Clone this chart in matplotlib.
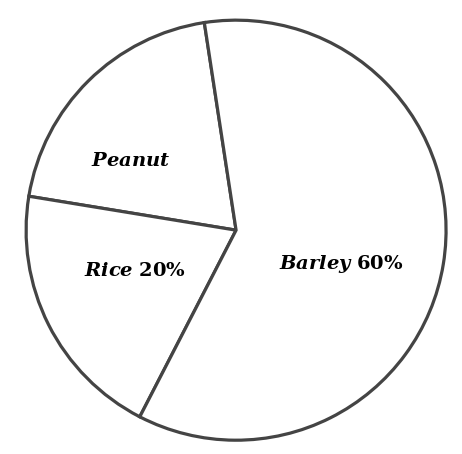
import matplotlib
matplotlib.use("Agg")
import matplotlib.pyplot as plt

crops = ["Peanut", "Rice", "Barley"]
shares = [20, 20, 60]
labels = [r"$\mathit{Peanut}$", r"$\mathit{Rice}$ $\mathbf{20\%}$", r"$\mathit{Barley}$ $\mathbf{60\%}$"]
label_pos = [(-0.50, 0.33), (-0.48, -0.19), (0.50, -0.16)]

plt.rcParams["mathtext.fontset"] = "custom"
plt.rcParams["mathtext.it"] = "DejaVu Serif:italic:bold"
plt.rcParams["mathtext.bf"] = "DejaVu Serif:bold"
plt.rcParams["mathtext.rm"] = "DejaVu Serif:bold"

fig = plt.figure(figsize=(4.62, 4.54), dpi=100)
ax = fig.add_axes([0.511 - 0.4545, 0.493 - 0.4626, 0.909, 0.9252])
ax.pie(shares, startangle=98.7, counterclock=True, colors=["white"] * 3,
       wedgeprops=dict(edgecolor="#444444", linewidth=2.3))
ax.set_aspect("auto")
ax.set_xlim(-1, 1)
ax.set_ylim(-1, 1)
ax.axis("off")
for lab, (x, y) in zip(labels, label_pos):
    ax.text(x, y, lab, ha="center", va="center", fontsize=14, color="black")
fig.savefig("out.png", dpi=100)
